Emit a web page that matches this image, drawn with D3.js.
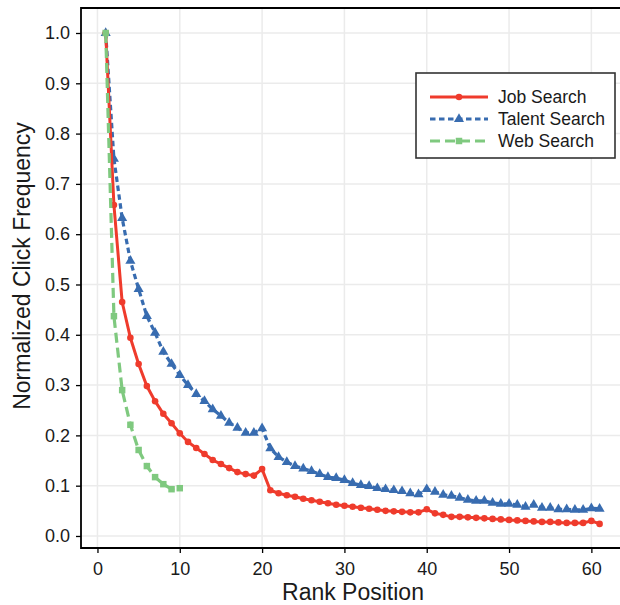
<!DOCTYPE html>
<html>
<head>
<meta charset="utf-8">
<script src="https://cdn.jsdelivr.net/npm/d3@7"></script>
<style>
  body { margin: 0; background: #fff; }
  text { font-family: "Liberation Sans", Arial, sans-serif; fill: #1a1a1a; }
</style>
</head>
<body>
<div id="vis"></div>
<script>
// click frequency by rank position (1..n)
var jobSearch = [1.0, 0.658, 0.465, 0.394, 0.342, 0.298, 0.268, 0.243, 0.224, 0.204,
    0.187, 0.175, 0.163, 0.151, 0.143, 0.135, 0.127, 0.123, 0.120, 0.133,
    0.091, 0.085, 0.081, 0.078, 0.074, 0.071, 0.068, 0.065, 0.062, 0.060,
    0.058, 0.056, 0.054, 0.052, 0.050, 0.049, 0.048, 0.047, 0.047, 0.053,
    0.045, 0.042, 0.038, 0.038, 0.037, 0.036, 0.035, 0.034, 0.033, 0.032,
    0.031, 0.030, 0.029, 0.028, 0.028, 0.027, 0.026, 0.026, 0.026, 0.030, 0.024];
var talentSearch = [1.0, 0.750, 0.632, 0.547, 0.491, 0.437, 0.404, 0.366, 0.342, 0.320,
    0.300, 0.282, 0.268, 0.252, 0.239, 0.225, 0.215, 0.205, 0.205, 0.214,
    0.174, 0.157, 0.147, 0.139, 0.134, 0.129, 0.123, 0.117, 0.115, 0.111,
    0.105, 0.101, 0.099, 0.095, 0.093, 0.091, 0.089, 0.085, 0.083, 0.093,
    0.088, 0.082, 0.080, 0.076, 0.072, 0.070, 0.070, 0.066, 0.064, 0.064,
    0.062, 0.058, 0.062, 0.056, 0.056, 0.053, 0.053, 0.052, 0.052, 0.055, 0.054];
var webSearch = [1.0, 0.437, 0.290, 0.221, 0.171, 0.139, 0.117, 0.103, 0.093, 0.095];

var seriesNames = ["Job Search", "Talent Search", "Web Search"];
var xTicks = [0, 10, 20, 30, 40, 50, 60];
var yTicks = [0.0, 0.1, 0.2, 0.3, 0.4, 0.5, 0.6, 0.7, 0.8, 0.9, 1.0];

var W = 620, H = 605;
var panel = { left: 81, top: 8, right: 621, bottom: 548 };

var svg = d3.select("#vis")
    .append("svg")
    .attr("width", W)
    .attr("height", H);

var x = d3.scaleLinear().domain([-2, 63.6]).range([panel.left, panel.right]);
var y = d3.scaleLinear().domain([-0.0239, 1.0497]).range([panel.bottom, panel.top]);

// grid
svg.append("g").selectAll("line")
    .data(xTicks)
    .enter().append("line")
    .attr("x1", d => x(d)).attr("x2", d => x(d))
    .attr("y1", panel.top).attr("y2", panel.bottom)
    .attr("stroke", "#ebebeb").attr("stroke-width", 1.5);
svg.append("g").selectAll("line")
    .data(yTicks)
    .enter().append("line")
    .attr("x1", panel.left).attr("x2", panel.right)
    .attr("y1", d => y(d)).attr("y2", d => y(d))
    .attr("stroke", "#ebebeb").attr("stroke-width", 1.5);

// axes
var xAxis = d3.axisBottom(x).tickValues(xTicks).tickSize(5).tickPadding(9)
    .tickFormat(d3.format("d"));
var yAxis = d3.axisLeft(y).tickValues(yTicks).tickSize(5).tickPadding(6)
    .tickFormat(d3.format(".1f"));

var gx = svg.append("g")
    .attr("transform", "translate(0," + panel.bottom + ")")
    .call(xAxis);
var gy = svg.append("g")
    .attr("transform", "translate(" + panel.left + ",0)")
    .call(yAxis);
[gx, gy].forEach(function (g) {
    g.select(".domain").remove();
    g.selectAll(".tick line").attr("stroke", "#000").attr("stroke-width", 1.3);
    g.selectAll(".tick text").attr("font-size", 18).attr("fill", "#1a1a1a")
        .style("font-family", "'Liberation Sans', Arial, sans-serif");
});

// panel border: left, bottom, top
svg.append("path")
    .attr("d", "M" + panel.right + "," + panel.top + "H" + panel.left + "V" + panel.bottom + "H" + panel.right)
    .attr("fill", "none")
    .attr("stroke", "#000")
    .attr("stroke-width", 1.8);

// series
var series = [
    { name: seriesNames[0], values: jobSearch, color: "#ef3b2c", dash: null, width: 3, symbol: null },
    { name: seriesNames[1], values: talentSearch, color: "#386cb0", dash: "5.5,3.5", width: 3.2, symbol: d3.symbolTriangle, size: 44 },
    { name: seriesNames[2], values: webSearch, color: "#7fc97f", dash: "10,5", width: 3.2, symbol: d3.symbolSquare, size: 42 }
];

var line = d3.line()
    .x((d, i) => x(i + 1))
    .y(d => y(d));

// draw back to front: talent, job, web (web on top at the start)
[series[1], series[0], series[2]].forEach(function (s) {
    svg.append("path")
        .datum(s.values)
        .attr("d", line)
        .attr("fill", "none")
        .attr("stroke", s.color)
        .attr("stroke-width", s.width)
        .attr("stroke-dasharray", s.dash);
    var pts = svg.append("g").selectAll(".pt")
        .data(s.values)
        .enter();
    if (s.symbol) {
        pts.append("path")
            .attr("transform", (d, i) => "translate(" + x(i + 1) + "," + y(d) + ")")
            .attr("d", d3.symbol().type(s.symbol).size(s.size))
            .attr("fill", s.color);
    } else {
        pts.append("circle")
            .attr("cx", (d, i) => x(i + 1))
            .attr("cy", d => y(d))
            .attr("r", 3.3)
            .attr("fill", s.color);
    }
});

// axis titles
svg.append("text")
    .attr("x", 353).attr("y", 600)
    .attr("text-anchor", "middle")
    .attr("font-size", 23)
    .text("Rank Position");
svg.append("text")
    .attr("transform", "translate(30,266) rotate(-90)")
    .attr("text-anchor", "middle")
    .attr("font-size", 23)
    .text("Normalized Click Frequency");

// legend
var lg = svg.append("g").attr("transform", "translate(416,73)");
lg.append("rect")
    .attr("width", 199).attr("height", 85)
    .attr("fill", "#fff")
    .attr("stroke", "#333")
    .attr("stroke-width", 1.6);
series.forEach(function (s, i) {
    var row = lg.append("g").attr("transform", "translate(0," + (24 + i * 22) + ")");
    row.append("line")
        .attr("x1", 14).attr("x2", 72)
        .attr("stroke", s.color)
        .attr("stroke-width", s.width)
        .attr("stroke-dasharray", s.dash);
    if (s.symbol) {
        row.append("path")
            .attr("transform", "translate(43,0)")
            .attr("d", d3.symbol().type(s.symbol).size(s.size))
            .attr("fill", s.color);
    } else {
        row.append("circle").attr("cx", 43).attr("r", 3.3).attr("fill", s.color);
    }
    row.append("text")
        .attr("x", 82).attr("y", 0).attr("dy", "0.36em")
        .attr("font-size", 17.5)
        .text(s.name);
});
</script>
</body>
</html>
